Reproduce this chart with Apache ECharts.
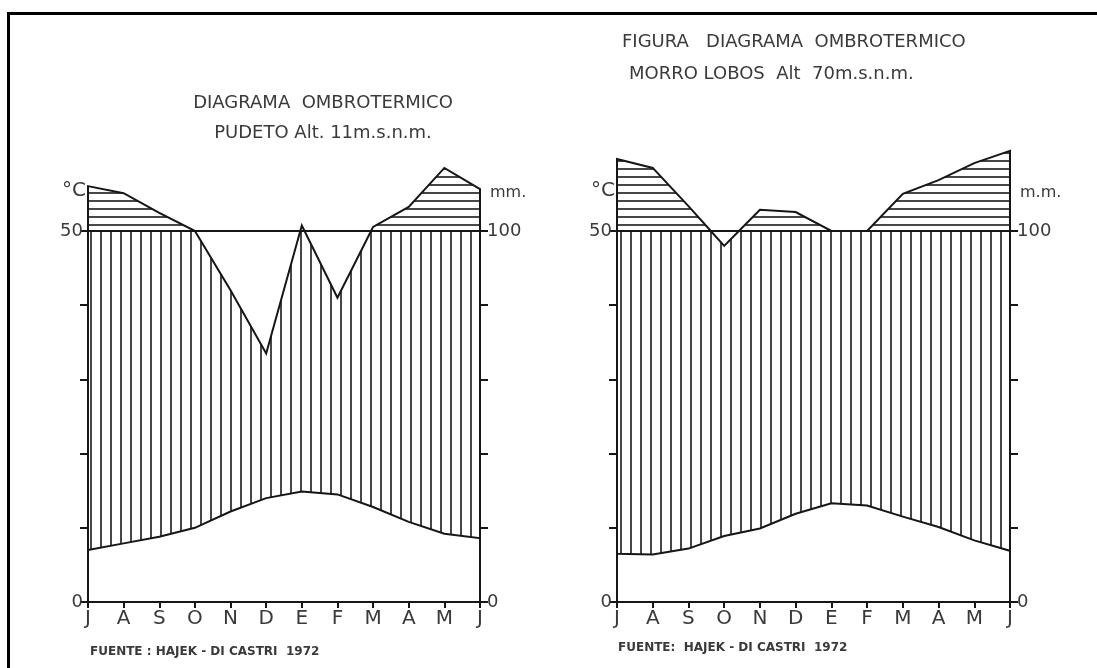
<!DOCTYPE html>
<html>
<head>
<meta charset="utf-8">
<title>Diagrama ombrotermico</title>
<script src="https://cdn.jsdelivr.net/npm/echarts@6/dist/echarts.min.js"></script>
<style>
  html, body { margin: 0; padding: 0; background: #fff; }
  #chart { width: 1097px; height: 668px; }
</style>
</head>
<body>
<div id="chart"></div>
<script>
// meses de julio a junio
var months = ['J', 'A', 'S', 'O', 'N', 'D', 'E', 'F', 'M', 'A', 'M', 'J']

// Pudeto: temperatura media (°C) y precipitacion (mm)
var pudetoTemp = [7.0, 7.9, 8.8, 10.0, 12.2, 14.0, 14.9, 14.5, 12.8, 10.8, 9.2, 8.6]
var pudetoRain = [221, 202, 149, 100, 84, 67, 115, 82, 111, 165, 270, 213]

// Morro Lobos
var lobosTemp = [6.5, 6.4, 7.2, 8.9, 9.9, 11.9, 13.3, 13.0, 11.5, 10.1, 8.3, 6.9]
var lobosRain = [294, 270, 167, 96, 157, 151, 100, 100, 200, 237, 283, 316]

var font = 'DejaVu Sans'
var ink = '#161616'
var textInk = '#3a3a3a'

// 1 °C = 2 mm hasta 100 mm; sobre 100 mm la escala se reduce a 1/10
var toTempUnits = function (mm) {
  return mm <= 100 ? mm / 2 : 50 + (mm - 100) / 20
}

const hatch = (w, h, vertical) => {
  var c = document.createElement('canvas')
  c.width = w
  c.height = h
  var ctx = c.getContext('2d')
  ctx.fillStyle = '#474747'
  if (vertical) ctx.fillRect(0, 0, 2, h)
  else ctx.fillRect(0, 0, w, 2)
  return c
}
var vHatch = { image: hatch(10, 10, true), repeat: 'repeat' }
var hHatch = { image: hatch(10, 8, false), repeat: 'repeat' }

const climateItem = (temp, rain) => {
  var p = rain.map(toTempUnits)
  return function (params, api) {
    if (params.dataIndex !== 0) return null
    var capped = []
    var over = []
    for (var i = 0; i < p.length; i++) {
      capped.push([i, Math.min(p[i], 50)])
      over.push([i, Math.max(p[i], 50)])
      if (i < p.length - 1 && (p[i] - 50) * (p[i + 1] - 50) < 0) {
        var t = (50 - p[i]) / (p[i + 1] - p[i])
        capped.push([i + t, 50])
        over.push([i + t, 50])
      }
    }
    var humid = temp.map(function (v, i) { return api.coord([i, v]) })
    capped.reverse().forEach(function (d) { humid.push(api.coord(d)) })
    var wet = over.map(function (d) { return api.coord(d) })
    wet.push(api.coord([p.length - 1, 50]), api.coord([0, 50]))
    return {
      type: 'group',
      children: [
        { type: 'polygon', shape: { points: humid }, style: { fill: vHatch, stroke: ink, lineWidth: 2 } },
        { type: 'polygon', shape: { points: wet }, style: { fill: hHatch, stroke: ink, lineWidth: 2 } },
      ],
    }
  }
}

const monthAxis = (grid) => ({
  type: 'value',
  gridIndex: grid,
  min: 0,
  max: 11,
  interval: 1,
  axisLine: { show: true, lineStyle: { color: ink, width: 2 } },
  axisTick: { show: true, length: 6, lineStyle: { color: ink, width: 2 } },
  axisLabel: {
    formatter: (v) => months[v],
    fontFamily: font,
    fontSize: 20,
    color: textInk,
    margin: 7,
  },
  splitLine: { show: false },
})

const sideAxis = (grid, pos, max, interval, name) => ({
  type: 'value',
  gridIndex: grid,
  position: pos,
  min: 0,
  max: max,
  interval: interval,
  name: name,
  nameLocation: 'end',
  nameGap: 30,
  nameTextStyle: {
    fontFamily: font,
    fontSize: pos === 'left' ? 20 : 16,
    color: textInk,
    align: pos === 'left' ? 'right' : 'left',
    padding: pos === 'left' ? [0, 2, 0, 0] : [0, 0, 0, 10],
  },
  axisLine: { show: true, lineStyle: { color: ink, width: 2 } },
  axisTick: { show: true, length: 8, lineStyle: { color: ink, width: 2 } },
  axisLabel: {
    formatter: (v) => (v === 0 || v === max ? String(v) : ''),
    fontFamily: font,
    fontSize: 18,
    color: textInk,
    margin: pos === 'left' ? 5 : 7,
  },
  splitLine: { show: false },
})

const titleText = (text, left, top, align, size, weight) => ({
  text: text,
  left: left,
  top: top,
  padding: 0,
  textAlign: align,
  textStyle: { fontFamily: font, fontSize: size, fontWeight: weight || 'normal', color: textInk },
})

var chart = echarts.init(document.getElementById('chart'))
chart.setOption({
  animation: false,
  backgroundColor: '#fff',
  title: [
    titleText('DIAGRAMA  OMBROTERMICO', 323, 94, 'center', 18),
    titleText('PUDETO Alt. 11m.s.n.m.', 323, 124, 'center', 18),
    titleText('FIGURA   DIAGRAMA  OMBROTERMICO', 622, 33, 'left', 18),
    titleText('MORRO LOBOS  Alt  70m.s.n.m.', 629, 65, 'left', 18),
    titleText('FUENTE : HAJEK - DI CASTRI  1972', 90, 646, 'left', 12, 'bold'),
    titleText('FUENTE:  HAJEK - DI CASTRI  1972', 618, 642, 'left', 12, 'bold'),
  ],
  graphic: [
    {
      type: 'polyline',
      shape: { points: [[8.5, 668], [8.5, 13.5], [1097, 13.5]] },
      style: { stroke: '#000', lineWidth: 3, fill: null },
      silent: true,
    },
  ],
  grid: [
    { left: 88, top: 231, width: 392, height: 371 },
    { left: 617, top: 231, width: 393, height: 371 },
  ],
  xAxis: [monthAxis(0), monthAxis(1)],
  yAxis: [
    sideAxis(0, 'left', 50, 10, '°C'),
    sideAxis(0, 'right', 100, 20, 'mm.'),
    sideAxis(1, 'left', 50, 10, '°C'),
    sideAxis(1, 'right', 100, 20, 'm.m.'),
  ],
  series: [
    {
      type: 'custom',
      xAxisIndex: 0,
      yAxisIndex: 0,
      silent: true,
      renderItem: climateItem(pudetoTemp, pudetoRain),
      data: pudetoTemp.map((v, i) => [i, v]),
    },
    {
      type: 'custom',
      xAxisIndex: 1,
      yAxisIndex: 2,
      silent: true,
      renderItem: climateItem(lobosTemp, lobosRain),
      data: lobosTemp.map((v, i) => [i, v]),
    },
  ],
})
</script>
</body>
</html>
